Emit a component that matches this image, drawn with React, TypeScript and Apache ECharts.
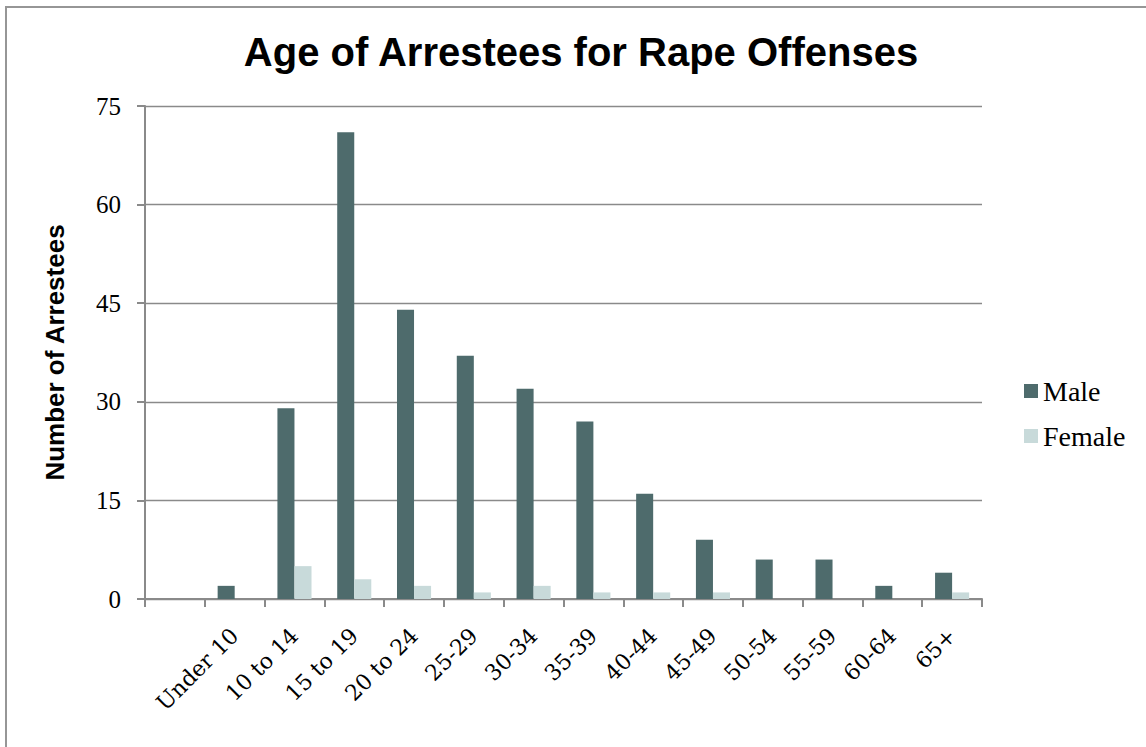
import React, { useEffect, useRef } from "react";
import * as echarts from "echarts";

const categories = ["", "Under 10", "10 to 14", "15 to 19", "20 to 24", "25-29", "30-34", "35-39", "40-44", "45-49", "50-54", "55-59", "60-64", "65+"];
const maleValues = [null, 2, 29, 71, 44, 37, 32, 27, 16, 9, 6, 6, 2, 4];
const femaleValues = [null, 0, 5, 3, 2, 1, 2, 1, 1, 1, 0, 0, 0, 1];
const yTicks = { min: 0, max: 75, interval: 15 };

export default function App() {
  const ref = useRef<HTMLDivElement>(null);
  useEffect(() => {
    if (!ref.current) return;
    const chart = echarts.init(ref.current, null, { renderer: "svg" });
    const axisGray = "#8a8a8a";
    chart.setOption({
      animation: false,
      backgroundColor: "#ffffff",
      title: {
        text: "Age of Arrestees for Rape Offenses",
        left: 576,
        top: 27,
        textAlign: "center",
        textStyle: { fontFamily: "Liberation Sans", fontWeight: "bold", fontSize: 40, color: "#000" },
      },
      graphic: [
        {
          type: "rect",
          shape: { x: 6, y: 7, width: 1300, height: 900 },
          style: { fill: "none", stroke: "#969696", lineWidth: 2 },
          silent: true,
        },
      ],
      legend: {
        orient: "vertical",
        left: 1024,
        top: 377,
        padding: 0,
        itemWidth: 14,
        itemHeight: 14,
        itemGap: 17,
        icon: "rect",
        textStyle: { fontFamily: "Liberation Serif", fontSize: 28, color: "#000" },
        data: ["Male", "Female"],
      },
      grid: { left: 145, top: 106, right: 164, bottom: 148, containLabel: false },
      xAxis: {
        type: "category",
        data: categories,
        boundaryGap: true,
        axisLine: { show: true, lineStyle: { color: axisGray, width: 2 } },
        axisTick: { show: true, interval: 0, length: 8, lineStyle: { color: axisGray, width: 2 } },
        axisLabel: {
          interval: 0,
          rotate: 45,
          margin: 33,
          fontFamily: "DejaVu Serif",
          fontSize: 22,
          color: "#000",
        },
        splitLine: { show: false },
      },
      yAxis: {
        type: "value",
        min: yTicks.min,
        max: yTicks.max,
        interval: yTicks.interval,
        name: "Number of Arrestees",
        nameLocation: "middle",
        nameGap: 77,
        nameTextStyle: { fontFamily: "Liberation Sans", fontWeight: "bold", fontSize: 26, color: "#000" },
        axisLine: { show: true, lineStyle: { color: axisGray, width: 2 } },
        axisTick: { show: true, length: 8, lineStyle: { color: axisGray, width: 2 } },
        axisLabel: { margin: 24, fontFamily: "Liberation Serif", fontSize: 25, color: "#000" },
        splitLine: { show: true, lineStyle: { color: axisGray, width: 1.3 } },
      },
      series: [
        {
          name: "Male",
          type: "bar",
          data: maleValues,
          barGap: "0%",
          barCategoryGap: "43%",
          itemStyle: { color: "#4e6b6c" },
        },
        {
          name: "Female",
          type: "bar",
          data: femaleValues,
          barGap: "0%",
          barCategoryGap: "43%",
          itemStyle: { color: "#c8dada" },
        },
      ],
    });
    return () => chart.dispose();
  }, []);
  return <div ref={ref} style={{ position: "absolute", left: 0, top: 0, width: 1146, height: 747 }} />;
}
